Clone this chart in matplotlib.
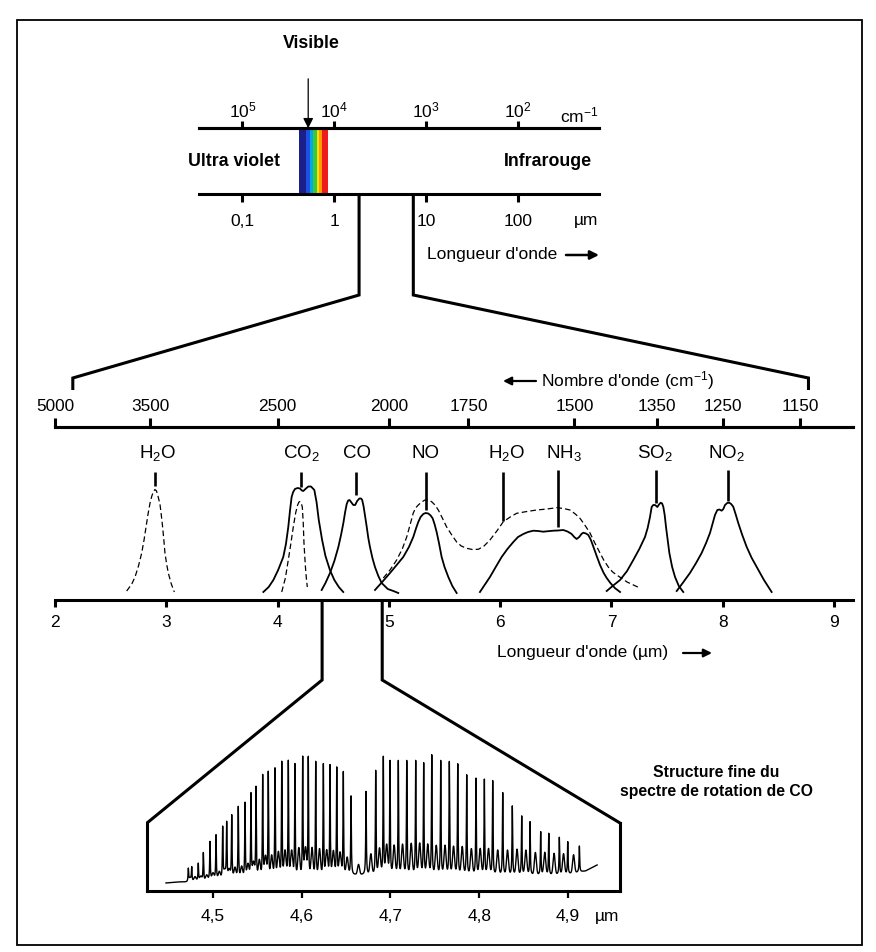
import numpy as np
import matplotlib
matplotlib.use('Agg')
import matplotlib.pyplot as plt
from matplotlib.lines import Line2D
from matplotlib.patches import Rectangle, FancyArrowPatch
from matplotlib.ticker import NullLocator

plt.rcParams['font.family'] = ['Liberation Sans', 'DejaVu Sans']
plt.rcParams['mathtext.fontset'] = 'custom'
plt.rcParams['mathtext.rm'] = 'Liberation Sans'
plt.rcParams['mathtext.it'] = 'Liberation Sans:italic'
plt.rcParams['mathtext.bf'] = 'Liberation Sans:bold'

# ---------------- DATA ----------------
# Top panel: electromagnetic spectrum (log scale, micrometres)
top_um_ticks = [0.1, 1, 10, 100]
top_um_labels = ['0,1', '1', '10', '100']
top_cm_ticks = [1e5, 1e4, 1e3, 1e2]
top_cm_labels = [r'$\mathregular{10^{5}}$', r'$\mathregular{10^{4}}$',
                 r'$\mathregular{10^{3}}$', r'$\mathregular{10^{2}}$']
TOP_XLIM = (0.0337, 765.0)
visible_edges = [0.416, 0.492, 0.544, 0.591, 0.643, 0.687, 0.735, 0.848]
visible_colors = ['#1b1f8a', '#1f4fe0', '#00a8e8', '#3cc83c', '#f2e600', '#ff9a00', '#ee1c1c']
visible_arrow_um = 0.52
zoom1_top_um = [1.86, 7.24]      # where the zoom starts on top panel
zoom1_mid_um = [2.16, 8.77]      # where it lands on the middle panel

# Middle panel: IR absorption bands (linear micrometres)
MID_XLIM = (2.0, 9.17)
mid_um_ticks = [2, 3, 4, 5, 6, 7, 8, 9]
mid_cm_ticks = [5000, 3500, 2500, 2000, 1750, 1500, 1350, 1250, 1150]

h2o_a_x = [2.644, 2.690, 2.719, 2.750, 2.779, 2.800, 2.818, 2.836, 2.854, 2.870, 2.883, 2.898,
           2.912, 2.925, 2.943, 2.955, 2.967, 2.978, 2.988, 3.003, 3.018, 3.045, 3.072]
h2o_a_y = [9, 16, 23, 34, 47, 60, 73, 86, 97, 104, 108, 110.5, 109, 104, 96, 85, 73, 60, 47,
           36, 27, 16, 8]
co2_x = [3.872, 3.920, 3.962, 4.005, 4.051, 4.075, 4.096, 4.112, 4.126, 4.140, 4.156, 4.180,
         4.201, 4.218, 4.231, 4.250, 4.276, 4.300, 4.330, 4.350, 4.370, 4.400, 4.430, 4.470,
         4.510, 4.550, 4.590]
co2_y = [8, 13, 20, 30, 43, 56, 73, 90, 103, 108, 111, 112, 111.5, 109.5, 109, 111, 113.5,
         113.5, 110, 98, 80, 60, 44, 30, 20, 13, 8]
co2_b_x = [4.037, 4.070, 4.096, 4.120, 4.141, 4.162, 4.180, 4.192, 4.201, 4.212, 4.222, 4.230,
           4.237, 4.245, 4.252, 4.260, 4.267]
co2_b_y = [8, 22, 40, 57, 73, 87, 95, 98, 98.5, 97, 93, 78, 57, 42, 30, 20, 13]
co_x = [4.396, 4.430, 4.471, 4.510, 4.546, 4.570, 4.591, 4.607, 4.621, 4.634, 4.646, 4.660,
        4.680, 4.697, 4.715, 4.735, 4.750, 4.760, 4.772, 4.786, 4.801, 4.815, 4.830, 4.852,
        4.875, 4.905, 4.935, 4.990, 5.040, 5.084]
co_y = [10, 17, 27, 39, 53, 65, 77, 88, 96, 99.5, 100, 98, 95, 95, 99, 101.5, 101.5, 100, 94,
        84, 73, 62, 53, 42, 33, 24, 17, 11, 9, 7]
no_x = [4.875, 4.940, 5.010, 5.070, 5.129, 5.180, 5.219, 5.245, 5.264, 5.285, 5.309, 5.330,
        5.354, 5.375, 5.393, 5.410, 5.429, 5.450, 5.474, 5.500, 5.534, 5.570, 5.609]
no_y = [10, 18, 27, 35, 43, 53, 63, 72, 78, 83, 86, 87, 86.5, 84.5, 81.7, 76, 68, 57, 43, 33,
        23, 14, 7]
h2o_b_x = [4.950, 5.010, 5.070, 5.120, 5.160, 5.190, 5.219, 5.240, 5.264, 5.295, 5.324, 5.355,
           5.384, 5.414, 5.444, 5.480, 5.519, 5.565, 5.609, 5.650, 5.699, 5.750, 5.804, 5.855,
           5.908, 5.970, 6.028, 6.090, 6.148, 6.240, 6.328, 6.420, 6.508, 6.570, 6.627, 6.675,
           6.717, 6.760, 6.807, 6.850, 6.897, 6.930, 6.971, 7.010, 7.047, 7.140, 7.241]
h2o_b_y = [22, 30, 40, 51, 63, 75, 87, 92, 95, 98, 100, 100, 98.3, 95, 90, 82, 73, 65, 58, 54,
           51.7, 50.5, 50.7, 54, 60, 69, 78.3, 83, 86.7, 88.5, 90, 91, 92.3, 91.5, 90, 86, 81.7,
           75, 67, 57, 47, 40, 33, 28, 25, 18, 12.7]
nh3_x = [5.818, 5.860, 5.908, 5.960, 6.013, 6.065, 6.118, 6.160, 6.208, 6.250, 6.298, 6.340,
         6.387, 6.430, 6.477, 6.520, 6.567, 6.605, 6.642, 6.665, 6.687, 6.710, 6.730, 6.747,
         6.770, 6.792, 6.815, 6.837, 6.867, 6.897, 6.930, 6.957, 6.990, 7.030, 7.077]
nh3_y = [8, 15, 23, 33, 43, 51, 58, 63, 66, 68, 69.3, 69, 68.3, 68.8, 69.3, 69.5, 70, 68.5, 66,
         63, 61, 63, 66, 67.3, 66.5, 65, 60, 53.3, 44, 35, 27, 22, 17, 12, 8]
so2_x = [6.957, 7.010, 7.077, 7.140, 7.196, 7.250, 7.301, 7.325, 7.346, 7.361, 7.375, 7.391,
         7.402, 7.412, 7.427, 7.442, 7.455, 7.466, 7.478, 7.490, 7.505, 7.520, 7.545, 7.571,
         7.605, 7.645]
so2_y = [9, 14, 20, 29, 40, 51, 63, 72, 83, 93, 95, 95, 94, 93, 95.5, 97.3, 96.5, 93, 85, 73,
         60, 47, 33, 23, 14, 8]
no2_x = [7.586, 7.640, 7.705, 7.760, 7.810, 7.850, 7.885, 7.910, 7.930, 7.951, 7.970, 7.990,
         8.005, 8.020, 8.040, 8.058, 8.075, 8.094, 8.115, 8.139, 8.175, 8.215, 8.260, 8.305,
         8.370, 8.439]
no2_y = [9, 17, 27, 37, 47, 57, 67, 77, 85, 90, 90.5, 89.3, 91, 95, 97, 97.3, 96, 93.3, 86,
         77, 65, 53, 42, 33, 20, 8]

mol_labels = [r'H$_{\mathregular{2}}$O', r'CO$_{\mathregular{2}}$', 'CO', 'NO',
              r'H$_{\mathregular{2}}$O', r'NH$_{\mathregular{3}}$', r'SO$_{\mathregular{2}}$',
              r'NO$_{\mathregular{2}}$']
mol_label_x = [2.92, 4.21, 4.71, 5.33, 6.06, 6.57, 7.39, 8.03]
mol_tick_x = [2.90, 4.207, 4.70, 5.333, 6.028, 6.522, 7.40, 8.05]
mol_tick_top = [128, 128, 128, 128, 128, 130, 130, 130]
mol_tick_bot = [114, 113, 105, 90, 79.3, 73.3, 96.7, 99.3]
zoom2_mid_um = [4.40, 4.94]

# Bottom panel: CO rotational fine structure
BOT_XLIM = (4.4256, 4.9588)
bot_ticks = [4.5, 4.6, 4.7, 4.8, 4.9]
bot_labels = ['4,5', '4,6', '4,7', '4,8', '4,9']
co_lines_um = [4.4722, 4.4760, 4.4834, 4.4891, 4.4966, 4.5034, 4.5109, 4.5154, 4.5211, 4.5285,
               4.5361, 4.5428, 4.5485, 4.5560, 4.5623, 4.5699, 4.5775, 4.5849, 4.5924, 4.6011,
               4.6074, 4.6158, 4.6244, 4.6319, 4.6395, 4.6469, 4.6556, 4.6725, 4.6834, 4.6920,
               4.6995, 4.7089, 4.7184, 4.7285, 4.7375, 4.7466, 4.7567, 4.7664, 4.7759, 4.7860,
               4.7965, 4.8059, 4.8153, 4.8266, 4.8374, 4.8480, 4.8574, 4.8694, 4.8785, 4.8904,
               4.8999, 4.9130]
co_lines_h = [22.7, 24.3, 27.7, 38.3, 49.3, 56, 64.3, 69.3, 76, 84.3, 88.3, 97.7, 104.3, 116,
              119.3, 122.7, 129.3, 130.3, 127, 134.3, 134.3, 129.3, 127, 126, 123.7, 119.3, 95,
              99.3, 120.3, 134.3, 130.3, 130.3, 130.3, 130.3, 128, 136, 130.3, 129.3, 127, 116,
              112.7, 111.7, 110.3, 98.3, 85, 75, 69.3, 59.3, 57.7, 53.7, 49.3, 45]
co_wiggle_amp = [3, 4, 4, 5, 6, 7, 7, 8, 10, 11,
                 13, 14, 17, 20, 21, 24, 25, 25, 28, 27, 28, 27, 25, 24, 22, 17,
                 10,
                 20, 25, 28, 28, 29, 30, 30, 29, 28, 28, 27, 27, 25, 25, 25, 24, 24, 25, 24, 22,
                 22, 21, 20, 18]
co_base_x = [4.447, 4.46, 4.47, 4.48, 4.49, 4.50, 4.52, 4.54, 4.56, 4.58, 4.60, 4.62, 4.64,
             4.66, 4.68, 4.70, 4.72, 4.74, 4.76, 4.78, 4.80, 4.82, 4.84, 4.86, 4.88, 4.90,
             4.92, 4.933]
co_base_y = [8, 9, 9, 10, 10, 11, 12, 12, 12, 13, 13, 13, 14, 16, 16, 16, 16, 16, 16, 16, 16,
             16, 16, 16, 16, 17, 20, 26]

# ---------------- FIGURE ----------------
W, H = 876, 952
fig = plt.figure(figsize=(W / 100, H / 100), dpi=100)
LW = 2.2


def fx(px):
    return px / W


def fy(py):
    return 1 - py / H


def axpos(l, t, r, b):
    return [fx(l), fy(b), (r - l) / W, (b - t) / H]


def inv(x):
    x = np.asarray(x, dtype=float)
    with np.errstate(divide='ignore', invalid='ignore'):
        return 1e4 / x


# frame
fig.add_artist(Rectangle((fx(17), fy(945)), (862 - 17) / W, (945 - 20) / H, fill=False,
                         lw=1.3, ec='k', transform=fig.transFigure))

# ---- top panel ----
ax_top = fig.add_axes(axpos(199, 128.3, 599.3, 194.3))
ax_top.set_xscale('log')
ax_top.set_xlim(*TOP_XLIM)
ax_top.set_ylim(0, 1)
ax_top.patch.set_alpha(0)
for s in ['left', 'right']:
    ax_top.spines[s].set_visible(False)
for s in ['top', 'bottom']:
    ax_top.spines[s].set_linewidth(LW)
ax_top.set_yticks([])
ax_top.set_xticks(top_um_ticks, labels=top_um_labels)
ax_top.xaxis.set_minor_locator(NullLocator())
ax_top.tick_params(axis='x', direction='out', length=6, width=LW, labelsize=12.5, pad=8)
for lo, hi, c in zip(visible_edges[:-1], visible_edges[1:], visible_colors):
    ax_top.axvspan(lo, hi, 0, 1, color=c, lw=0, zorder=0)
sec = ax_top.secondary_xaxis('top', functions=(inv, inv))
sec.set_xticks(top_cm_ticks, labels=top_cm_labels)
sec.xaxis.set_minor_locator(NullLocator())
sec.tick_params(direction='out', length=5, width=LW, labelsize=12.5, pad=1)
sec.spines['top'].set_linewidth(LW)

ax_top.annotate('', xy=(visible_arrow_um, 1.0), xycoords=('data', 'axes fraction'),
                xytext=(visible_arrow_um, 1.75), textcoords=('data', 'axes fraction'),
                arrowprops=dict(arrowstyle='-|>', color='k', lw=0.9, mutation_scale=15,
                                shrinkA=0, shrinkB=0))
fig.text(fx(311), fy(44), 'Visible', ha='center', va='center', fontsize=12.8, weight='bold')
fig.text(fx(188), fy(161), 'Ultra violet', ha='left', va='center', fontsize=12.8, weight='bold')
fig.text(fx(592), fy(161), 'Infrarouge', ha='right', va='center', fontsize=12.8, weight='bold')
fig.text(fx(599), fy(115), r'cm$^{\mathregular{-1}}$', ha='right', va='center', fontsize=12.5)
fig.text(fx(598), fy(220), 'µm', ha='right', va='center', fontsize=12.5)
fig.text(fx(427), fy(255), "Longueur d'onde", ha='left', va='center', fontsize=12.5)
fig.add_artist(FancyArrowPatch((fx(566), fy(255)), (fx(599), fy(255)), transform=fig.transFigure,
                               arrowstyle='-|>', mutation_scale=13, lw=1.8, color='k',
                               shrinkA=0, shrinkB=0))

# ---- middle panel ----
ax_mid = fig.add_axes(axpos(55, 426.7, 853, 600))
ax_mid.set_xlim(*MID_XLIM)
ax_mid.set_ylim(0, 173.3)
ax_mid.patch.set_alpha(0)
for s in ['left', 'right']:
    ax_mid.spines[s].set_visible(False)
for s in ['top', 'bottom']:
    ax_mid.spines[s].set_linewidth(LW)
ax_mid.set_yticks([])
ax_mid.set_xticks(mid_um_ticks, labels=[str(t) for t in mid_um_ticks])
ax_mid.tick_params(axis='x', direction='out', length=5, width=LW, labelsize=12.5, pad=6)
sec2 = ax_mid.secondary_xaxis('top', functions=(inv, inv))
sec2.set_xticks(mid_cm_ticks, labels=[str(t) for t in mid_cm_ticks])
sec2.xaxis.set_minor_locator(NullLocator())
sec2.tick_params(direction='out', length=6.5, width=LW, labelsize=12.4, pad=2.5)
sec2.spines['top'].set_linewidth(LW)

for xs_, ys_ in [(co2_x, co2_y), (co_x, co_y), (no_x, no_y), (nh3_x, nh3_y),
                 (so2_x, so2_y), (no2_x, no2_y)]:
    ax_mid.plot(xs_, ys_, color='k', lw=1.3, solid_joinstyle='round')
for xs_, ys_ in [(h2o_a_x, h2o_a_y), (co2_b_x, co2_b_y), (h2o_b_x, h2o_b_y)]:
    ax_mid.plot(xs_, ys_, color='k', lw=0.9, ls=(0, (4.5, 2.5)))

for lab, lx, tx, t0, t1 in zip(mol_labels, mol_label_x, mol_tick_x, mol_tick_top, mol_tick_bot):
    ax_mid.text(lx, 147, lab, ha='center', va='center', fontsize=13.5)
    ax_mid.plot([tx, tx], [t0, t1], color='k', lw=1.9, solid_capstyle='butt')

fig.text(fx(541), fy(381), r"Nombre d'onde (cm$^{\mathregular{-1}}$)", ha='left', va='center',
         fontsize=12.5)
fig.add_artist(FancyArrowPatch((fx(536), fy(381)), (fx(503), fy(381)), transform=fig.transFigure,
                               arrowstyle='-|>', mutation_scale=12, lw=1.6, color='k',
                               shrinkA=0, shrinkB=0))
fig.text(fx(497), fy(653), "Longueur d'onde (µm)", ha='left', va='center', fontsize=12.5)
fig.add_artist(FancyArrowPatch((fx(683), fy(653)), (fx(712), fy(653)), transform=fig.transFigure,
                               arrowstyle='-|>', mutation_scale=12, lw=1.6, color='k',
                               shrinkA=0, shrinkB=0))

# ---- bottom panel ----
ax_bot = fig.add_axes(axpos(147, 740, 620, 891))
ax_bot.set_xlim(*BOT_XLIM)
ax_bot.set_ylim(0, 151)
ax_bot.patch.set_alpha(0)
ax_bot.spines['top'].set_visible(False)
for s in ['left', 'right', 'bottom']:
    ax_bot.spines[s].set_linewidth(LW)
ax_bot.spines['left'].set_bounds(0, 68)
ax_bot.spines['right'].set_bounds(0, 68)
ax_bot.set_yticks([])
ax_bot.set_xticks(bot_ticks, labels=bot_labels)
ax_bot.tick_params(axis='x', direction='out', length=5, width=1.6, labelsize=12.5, pad=8)

lines_c = np.array(co_lines_um)
lines_h = np.array(co_lines_h)
grid = np.linspace(co_base_x[0], co_base_x[-1], 8000)
xs = np.unique(np.concatenate([grid, lines_c]))
spec = np.interp(xs, co_base_x, co_base_y)
mids = (lines_c[:-1] + lines_c[1:]) / 2
for m, a in zip(mids, co_wiggle_amp):
    spec = spec + a * np.exp(-0.5 * ((xs - m) / 0.0011) ** 2)
gam = 0.0004
for c, h in zip(lines_c, lines_h):
    a = h - np.interp(c, xs, spec)
    spec = spec + a * gam ** 2 / ((xs - c) ** 2 + gam ** 2)
ax_bot.plot(xs, spec, color='k', lw=1.0)
fig.text(fx(607), fy(916), 'µm', ha='center', va='center', fontsize=12.5)
fig.text(fx(716), fy(782), 'Structure fine du\nspectre de rotation de CO', ha='center',
         va='center', fontsize=11.3, weight='bold', linespacing=1.35)

# ---- connectors ----
to_fig = fig.transFigure.inverted()


def xfig(ax, xv):
    return to_fig.transform(ax.transData.transform((xv, 0)))[0]


def ptfig(ax, xv, yv):
    return to_fig.transform(ax.transData.transform((xv, yv)))


def add_poly(xs_f, ys_f):
    fig.add_artist(Line2D(xs_f, ys_f, transform=fig.transFigure, color='k', lw=LW,
                          solid_joinstyle='miter', solid_capstyle='butt'))


for ut, um in zip(zoom1_top_um, zoom1_mid_um):
    xt = xfig(ax_top, ut)
    xm = xfig(ax_mid, um)
    add_poly([xt, xt, xm, xm], [fy(194.3), fy(295), fy(378), fy(390)])

for um, side in zip(zoom2_mid_um, [0, 1]):
    xm = xfig(ax_mid, um)
    corner = to_fig.transform(ax_bot.transAxes.transform((side, 0)))
    cy = ptfig(ax_bot, BOT_XLIM[side], 68)[1]
    add_poly([xm, xm, corner[0]], [fy(600), fy(680), cy])

fig.savefig('out.png', dpi=100, facecolor='white')
